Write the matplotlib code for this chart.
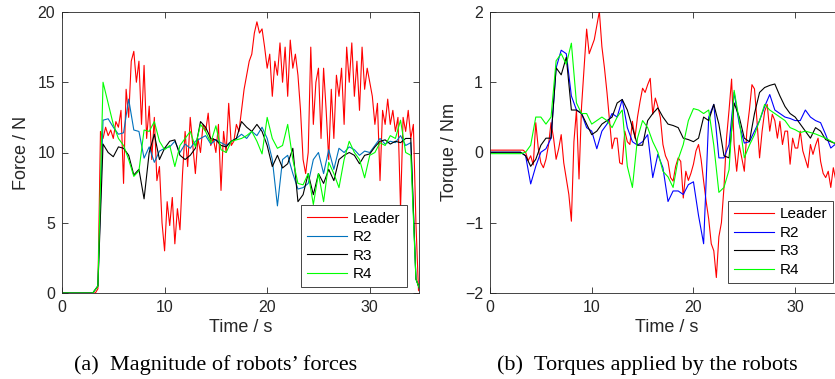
import numpy as np
import matplotlib
matplotlib.use('Agg')
import matplotlib.pyplot as plt

# force magnitude, leader sampled every 0.25 s, followers every 0.5 s
force_leader = [
    0, 0, 0, 0,
    0, 0, 0, 0,
    0, 0, 0, 0,
    0, 0, 0.3, 11.5,
    11.0, 11.8, 11.2, 11.6,
    11.0, 12.2, 11.8, 13.0,
    7.8, 14.5, 12.5, 16.5,
    17.2, 15.0, 16.5, 12.0,
    16.2, 11.0, 13.3, 9.5,
    12.5, 8.0, 9.0, 5.0,
    3.0, 6.5, 4.8, 6.8,
    3.5, 6.0, 4.5, 8.5,
    11.5, 9.0, 12.5, 10.5,
    8.5, 11.0, 10.0, 12.0,
    11.5, 12.8, 10.5, 11.0,
    10.0, 12.0, 7.3, 11.5,
    10.0, 13.5, 10.5, 10.8,
    12.0, 11.5, 13.0, 14.5,
    15.5, 16.5, 17.0, 18.5,
    19.3, 18.5, 18.8, 17.5,
    16.0, 17.0, 14.0, 16.5,
    15.5, 17.8, 15.0, 17.5,
    14.0, 18.0, 16.0, 17.0,
    15.5, 13.0, 9.5, 8.5,
    10.0, 17.5, 12.0, 15.0,
    16.0, 11.0, 16.0, 13.0,
    9.5, 14.5, 11.0, 15.5,
    14.0, 16.0, 12.0, 17.5,
    15.0, 17.8, 14.0, 16.5,
    13.0, 17.5, 14.5, 16.0,
    15.0, 14.0, 12.0, 13.5,
    8.0, 13.0, 12.0, 13.8,
    12.0, 13.0, 11.5, 12.5,
    6.0, 12.5, 11.5, 13.0,
    11.0, 12.0, 5.0, 0.2,
    0.0,
]
force_r2 = [
    0, 0, 0, 0, 0, 0, 0, 0.5, 12.3, 12.4,
    11.8, 11.3, 11.4, 13.8, 11.6, 11.5, 9.6, 10.4, 9.3, 10.1,
    10.3, 10.4, 10.8, 10.0, 10.6, 10.3, 10.8, 11.0, 11.2, 10.6,
    10.9, 10.7, 10.5, 10.8, 11.0, 11.3, 11.0, 11.5, 11.2, 11.8,
    11.0, 9.5, 6.2, 9.5, 9.8, 8.5, 7.4, 7.5, 7.8, 9.5,
    10.0, 8.5, 10.2, 8.8, 10.3, 10.0, 10.4, 10.2, 9.8, 10.1,
    10.0, 10.5, 11.0, 10.6, 10.8, 10.7, 11.2, 10.5, 10.7, 1.0,
    0.0,
]
force_r3 = [
    0, 0, 0, 0, 0, 0, 0, 0.5, 10.6, 10.0,
    9.7, 10.4, 10.3, 9.8, 8.4, 8.8, 6.7, 10.0, 11.3, 9.5,
    10.3, 10.8, 10.9, 9.8, 9.5, 9.8, 10.3, 12.2, 11.8, 11.0,
    10.9, 10.5, 10.4, 10.8, 11.0, 12.2, 11.8, 11.5, 12.0, 11.5,
    10.5, 9.0, 9.8, 8.9, 9.2, 10.3, 6.5, 7.0, 8.5, 7.0,
    8.5, 7.8, 8.8, 8.0, 9.5, 9.8, 10.0, 9.8, 9.2, 9.8,
    9.9, 10.4, 10.8, 10.9, 10.6, 10.8, 10.7, 11.0, 11.0, 1.0,
    0.0,
]
force_r4 = [
    0, 0, 0, 0, 0, 0, 0, 0.5, 15.0, 13.5,
    12.0, 11.0, 10.5, 9.5, 8.3, 8.7, 11.6, 11.5, 12.2, 10.8,
    10.2, 10.5, 9.0, 10.5, 11.0, 11.5, 10.4, 12.0, 11.5, 10.7,
    11.9, 10.2, 10.0, 10.8, 10.9, 11.0, 11.2, 11.5, 10.8, 9.9,
    12.5, 11.0, 10.3, 10.5, 12.0, 9.5, 7.8, 7.7, 8.5, 6.3,
    8.5, 6.5, 9.3, 8.5, 7.5, 9.5, 10.8, 10.0, 9.5, 8.2,
    9.8, 10.0, 10.7, 10.5, 11.2, 11.0, 12.3, 10.0, 9.8, 1.0,
    0.0,
]

# torques
torque_leader = [
    0.03, 0.03, 0.03, 0.03,
    0.03, 0.03, 0.03, 0.03,
    0.03, 0.03, 0.03, 0.03,
    0.03, 0.03, 0.0, -0.12,
    -0.05, -0.18, 0.42, 0.05,
    -0.15, -0.22, -0.1, 0.1,
    0.42, 0.2, -0.1, 0.05,
    0.25, -0.15, -0.38, -0.6,
    -0.98, 0.15, 0.6, -0.38,
    0.65, 1.2, 1.75, 1.4,
    1.5, 1.6, 1.8, 2.0,
    1.5, 1.2, 0.85, 0.45,
    0.05, 0.2, 0.2, -0.15,
    -0.17, 0.3, 0.15, 0.11,
    0.44, 0.2, 0.5, 0.72,
    0.91, 0.85, 0.96, 1.05,
    0.54, 0.77, 0.65, 0.49,
    0.11, -0.05, -0.13, -0.36,
    -0.41, -0.2, -0.08, -0.13,
    -0.65, -0.27, -0.4, -0.3,
    -0.17, 0.02, 0.11, -0.1,
    -0.41, -0.7, -0.95, -1.3,
    -1.4, -1.78, -1.2, -1.0,
    -0.5, 0.2, 0.6, 1.04,
    0.11, -0.27, 0.1, -0.08,
    -0.27, 0.3, 0.6, 0.96,
    0.9, 0.44, -0.08, 0.3,
    0.58, 0.68, 0.3, 0.54,
    0.45, 0.2, 0.44, 0.11,
    0.3, 0.3, -0.17, 0.2,
    0.06, 0.06, 0.3, 0.02,
    -0.1, -0.22, 0.11, -0.03,
    0.1, 0.2, -0.13, -0.3,
    -0.36, -0.27, -0.5, -0.22,
    -0.4, -0.3, -0.45, -0.35,
    -0.4,
]
torque_r2 = [
    0, 0, 0, 0, 0, 0, 0, -0.05, -0.45, -0.2,
    0.0, 0.05, 0.2, 1.2, 1.45, 1.4, 0.8, 0.6, 0.55, 0.35,
    0.3, 0.05, 0.3, 0.4, 0.55, 0.5, 0.75, 0.35, 0.15, 0.1,
    0.15, 0.25, -0.36, -0.03, -0.22, -0.7, -0.55, -0.55, -0.6, -0.46,
    -0.42, -0.9, -1.3, 0.5, 0.68, -0.08, -0.08, 0.11, 0.85, 0.4,
    0.13, 0.15, 0.3, 0.45, 0.65, 0.82, 0.6, 0.55, 0.5, 0.48,
    0.45, 0.45, 0.6, 0.5, 0.45, 0.42, 0.25, 0.06, 0.12, 0.1,
    0.1,
]
torque_r3 = [
    0, 0, 0, 0, 0, 0, 0, -0.05, -0.2, -0.1,
    0.1, 0.2, 0.2, 1.2, 1.1, 1.35, 0.6, 0.6, 0.55, 0.4,
    0.25, 0.3, 0.4, 0.45, 0.5, 0.7, 0.75, 0.6, 0.35, 0.1,
    0.1, 0.45, 0.55, 0.63, 0.5, 0.4, 0.38, 0.35, 0.2, 0.18,
    0.15, 0.2, 0.5, 0.45, 0.68, 0.4, -0.05, -0.08, 0.7, 0.5,
    0.2, 0.15, 0.55, 0.85, 0.92, 0.95, 0.97, 0.8, 0.65, 0.55,
    0.5, 0.4, 0.3, 0.2, 0.35, 0.3, 0.18, 0.15, 0.12, 0.1,
    0.1,
]
torque_r4 = [
    -0.02, -0.02, -0.02, -0.02, -0.02, -0.02, -0.02, 0.0, 0.1, 0.5,
    0.5, 0.4, 0.5, 1.3, 1.4, 1.25, 1.55, 0.7, 0.55, 0.55,
    0.4, 0.45, 0.5, 0.45, 0.35, 0.5, 0.6, -0.2, -0.5, 0.2,
    0.45, 0.35, 0.15, 0.0, -0.27, -0.35, -0.5, -0.1, 0.11, 0.45,
    0.62, 0.6, 0.55, 0.6, 0.1, -0.57, -0.5, -0.25, 0.88, 0.45,
    -0.08, 0.1, 0.25, 0.45, 0.68, 0.6, 0.55, 0.5, 0.45, 0.35,
    0.32, 0.28, 0.3, 0.28, 0.26, 0.23, 0.2, 0.16, 0.12, 0.1,
    0.1,
]

labels = ['Leader', 'R2', 'R3', 'R4']

t_fast = np.arange(len(force_leader)) * 0.25
t_slow = np.arange(len(force_r2)) * 0.5

plt.rcParams['font.family'] = ['Liberation Sans', 'DejaVu Sans']
W, H = 835, 379
fig = plt.figure(figsize=(W / 100, H / 100), dpi=100)

ax1 = fig.add_axes([62 / W, 86 / H, 357 / W, 281 / H])
ax2 = fig.add_axes([490 / W, 86 / H, 354 / W, 281.5 / H])


def style_axes(ax, ylabel):
    ax.set_xlim(0, 34.8)
    ax.set_xticks([0, 10, 20, 30])
    ax.tick_params(direction='in', top=True, right=True, length=4, width=0.6,
                   labelsize=11.5, colors='0.15', pad=5)
    for sp in ax.spines.values():
        sp.set_color('0.15')
        sp.set_linewidth(0.6)
    ax.set_xlabel('Time / s', fontsize=13, color='0.15', labelpad=3)
    ax.set_ylabel(ylabel, fontsize=13, color='0.15', labelpad=5)


lw = 0.8
ax1.plot(t_fast, force_leader, color='#ff0000', lw=lw, label=labels[0])
ax1.plot(t_slow, force_r2, color='#0072bd', lw=lw, label=labels[1])
ax1.plot(t_slow, force_r3, color='black', lw=lw, label=labels[2])
ax1.plot(t_slow, force_r4, color='#00ff00', lw=lw, label=labels[3])
ax1.set_ylim(0, 20)
ax1.set_yticks([0, 5, 10, 15, 20])
style_axes(ax1, 'Force / N')

ax2.plot(t_fast, torque_leader, color='#ff0000', lw=lw, label=labels[0])
ax2.plot(t_slow, torque_r2, color='#0000ff', lw=lw, label=labels[1])
ax2.plot(t_slow, torque_r3, color='black', lw=lw, label=labels[2])
ax2.plot(t_slow, torque_r4, color='#00ff00', lw=lw, label=labels[3])
ax2.set_ylim(-2, 2)
ax2.set_yticks([-2, -1, 0, 1, 2])
style_axes(ax2, 'Torque / Nm')

for ax, anchor in [(ax1, (0.965, 0.02)), (ax2, (0.97, 0.035))]:
    leg = ax.legend(loc='lower right', bbox_to_anchor=anchor, fontsize=11,
                    fancybox=False, framealpha=1, edgecolor='0.15',
                    handlelength=2.6, handletextpad=0.4, labelspacing=0.3,
                    borderpad=0.4, borderaxespad=0)
    leg.get_frame().set_linewidth(0.6)

fig.text(216 / W, 1 - 365 / H, '(a)  Magnitude of robots\u2019 forces',
         ha='center', va='center', fontsize=16, family='Liberation Serif')
fig.text(647 / W, 1 - 365 / H, '(b)  Torques applied by the robots',
         ha='center', va='center', fontsize=16, family='Liberation Serif')

fig.savefig('out.png', dpi=100)
